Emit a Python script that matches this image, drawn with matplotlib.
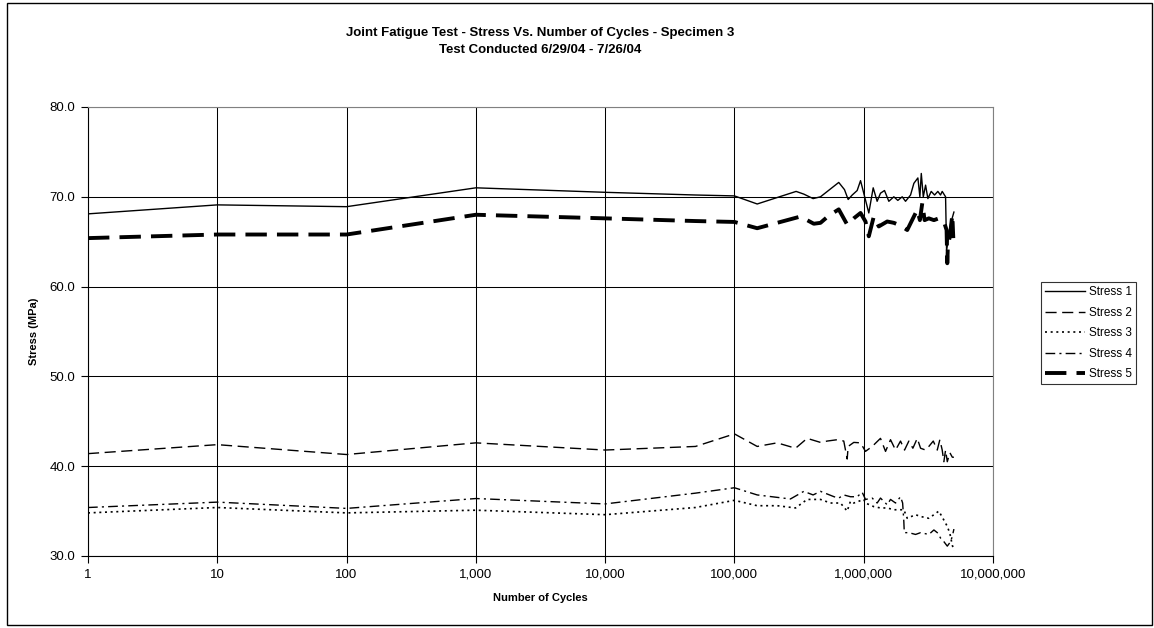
import numpy as np
import matplotlib.pyplot as plt
from matplotlib.ticker import FuncFormatter, FixedLocator
from matplotlib.patches import Rectangle

plt.rcParams['font.family'] = ['Liberation Sans', 'DejaVu Sans']

# cycles and stresses
cyc1 = [1, 10, 100, 1000, 10000, 50000, 100000, 150000, 300000, 344000, 406000,
        463000, 641000, 710000, 758000, 815000, 890000, 945000, 1095000, 1184000,
        1270000, 1348000, 1448000, 1564000, 1710000, 1836000, 1985000, 2106000,
        2303000, 2443000, 2624000, 2719000, 2788000, 2889000, 3010000, 3135000,
        3327000, 3533000, 3744000, 3927000, 4047000, 4297000, 4375000, 4700000,
        4985000]
stress1 = [68.1, 69.1, 68.9, 71.0, 70.5, 70.2, 70.1, 69.2, 70.6, 70.3, 69.8,
           70.0, 71.6, 70.8, 69.7, 70.2, 70.7, 71.8, 68.2, 71.0,
           69.5, 70.4, 70.7, 69.5, 70.0, 69.6, 70.0, 69.5,
           70.2, 71.5, 72.1, 70.0, 72.6, 70.0, 71.3, 69.8,
           70.6, 70.2, 70.6, 70.2, 70.6, 70.0, 64.0, 67.0,
           68.3]

cyc2 = [1, 10, 100, 1000, 10000, 50000, 100000, 150000, 214000, 297000, 365000,
        463000, 522000, 624000, 701000, 745000, 758000, 838000, 945000, 1032000,
        1163000, 1348000, 1475000, 1612000, 1763000, 1926000, 2069000, 2234000,
        2400000, 2595000, 2753000, 3010000, 3190000, 3451000, 3705000, 3880000,
        4047000, 4168000, 4297000, 4430000, 4641000, 4846000, 4985000]
stress2 = [41.4, 42.4, 41.3, 42.6, 41.8, 42.2, 43.6, 42.2, 42.6, 42.0, 43.1,
           42.65, 42.8, 42.95, 42.8, 40.8, 42.2, 42.65, 42.6, 41.65,
           42.2, 43.1, 41.65, 42.95, 41.8, 42.8, 41.8, 42.8,
           42.0, 43.1, 42.0, 41.8, 42.2, 42.8, 41.8, 42.95,
           41.8, 40.5, 41.8, 40.5, 41.5, 41.0, 41.0]

cyc3 = [1, 10, 100, 1000, 10000, 50000, 100000, 150000, 214000, 297000, 365000,
        463000, 553000, 661000, 745000, 790000, 838000, 1002000, 1032000,
        1196000, 1348000, 1520000, 1710000, 1858000, 2043000, 2171000, 2518000,
        2753000, 3190000, 3490000, 3811000, 4168000, 4430000, 4641000, 4846000,
        4985000]
stress3 = [34.8, 35.4, 34.8, 35.1, 34.6, 35.4, 36.2, 35.6, 35.6, 35.35, 36.3,
           36.3, 35.9, 35.9, 35.0, 36.1, 35.9, 36.3, 35.9,
           35.5, 35.35, 35.35, 35.15, 35.15, 35.15, 34.2, 34.6,
           34.4, 34.2, 34.6, 35.0, 34.0, 33.3, 32.5, 31.2,
           30.6]

cyc4 = [1, 10, 100, 1000, 10000, 50000, 100000, 150000, 271000, 344000, 406000,
        463000, 590000, 641000, 701000, 790000, 890000, 973000, 1032000,
        1163000, 1270000, 1348000, 1520000, 1612000, 1763000, 1926000, 2000000,
        2043000, 2060000, 2234000, 2518000, 2753000, 3190000, 3490000, 3744000,
        3927000, 4168000, 4430000, 4700000, 4846000, 4985000]
stress4 = [35.4, 36.0, 35.3, 36.4, 35.8, 37.0, 37.6, 36.8, 36.35, 37.2, 36.8,
           37.2, 36.6, 36.45, 36.8, 36.6, 36.6, 37.1, 36.3,
           36.45, 35.9, 36.45, 35.7, 36.3, 35.9, 36.6, 35.9,
           33.85, 32.6, 32.6, 32.4, 32.6, 32.4, 32.9, 32.55,
           32.0, 31.6, 31.1, 31.6, 32.2, 33.0]

cyc5 = [1, 10, 100, 1000, 10000, 50000, 100000, 150000, 324000, 411000, 463000,
        537000, 641000, 745000, 838000, 945000, 1032000, 1095000, 1196000,
        1308000, 1520000, 1710000, 1926000, 2171000, 2443000, 2595000, 2719000,
        2838000, 2957000, 3190000, 3490000, 3811000, 4168000, 4375000, 4430000,
        4479000, 4641000, 4846000, 4930000]
stress5 = [65.4, 65.8, 65.8, 68.0, 67.6, 67.3, 67.2, 66.5, 67.8, 67.0, 67.1,
           67.9, 68.6, 66.9, 67.6, 68.2, 67.25, 65.6, 67.8,
           66.7, 67.25, 67.1, 66.8, 66.3, 67.8, 68.55, 67.4,
           69.3, 67.4, 67.6, 67.4, 67.6, 67.25, 66.3, 62.6,
           64.6, 65.6, 68.0, 65.4]

fig = plt.figure(figsize=(11.54, 6.28), dpi=100)
ax = fig.add_axes([88 / 1154, 1 - 556 / 628, (993 - 88) / 1154, (556 - 107) / 628])

ax.plot(cyc1, stress1, color='black', lw=1.0, label='Stress 1')
ax.plot(cyc2, stress2, color='black', lw=1.0, dashes=(8, 4), label='Stress 2')
ax.plot(cyc3, stress3, color='black', lw=1.2, dashes=(1.2, 2.2), label='Stress 3')
ax.plot(cyc4, stress4, color='black', lw=1.0, dashes=(7, 3, 1.5, 3), label='Stress 4')
ax.plot(cyc5, stress5, color='black', lw=2.8, dashes=(5.5, 2.6), label='Stress 5')

ax.set_xscale('log')
ax.set_xlim(1, 1e7)
ax.set_ylim(30, 80)
ax.xaxis.set_major_locator(FixedLocator([10 ** i for i in range(8)]))
ax.xaxis.set_minor_locator(FixedLocator([]))
ax.xaxis.set_major_formatter(FuncFormatter(lambda v, p: f'{int(round(v)):,}'))
ax.set_yticks(np.arange(30, 81, 10))
ax.yaxis.set_major_formatter(FuncFormatter(lambda v, p: f'{v:.1f}'))
ax.grid(True, color='black', lw=0.75)
ax.tick_params(labelsize=9.5, length=5, width=0.8, direction='out', pad=4)
for s in ax.spines.values():
    s.set_linewidth(0.8)
    s.set_color('black')
ax.spines['top'].set_color('#808080')
ax.spines['right'].set_color('#808080')

ax.set_xlabel('Number of Cycles', fontsize=8, fontweight='bold', labelpad=9)
ax.set_ylabel('Stress (MPa)', fontsize=8, fontweight='bold', labelpad=8)

fig.text(540 / 1154, 1 - 33 / 628, 'Joint Fatigue Test - Stress Vs. Number of Cycles - Specimen 3',
         ha='center', va='center', fontsize=9.5, fontweight='bold')
fig.text(540 / 1154, 1 - 50 / 628, 'Test Conducted 6/29/04 - 7/26/04',
         ha='center', va='center', fontsize=9.5, fontweight='bold')

leg = fig.legend(loc='upper left', bbox_to_anchor=(1041 / 1154, 1 - 282 / 628),
                 fontsize=8.5, frameon=True, fancybox=False, handlelength=3.4,
                 borderaxespad=0, labelspacing=0.72, handletextpad=0.3, borderpad=0.35)
leg.get_frame().set_edgecolor('black')
leg.get_frame().set_linewidth(0.8)

fig.patches.append(Rectangle((7 / 1154, 3 / 628), 1145 / 1154, 622 / 628,
                             transform=fig.transFigure, fill=False,
                             edgecolor='black', lw=1.0))

fig.savefig('out.png', dpi=100)
